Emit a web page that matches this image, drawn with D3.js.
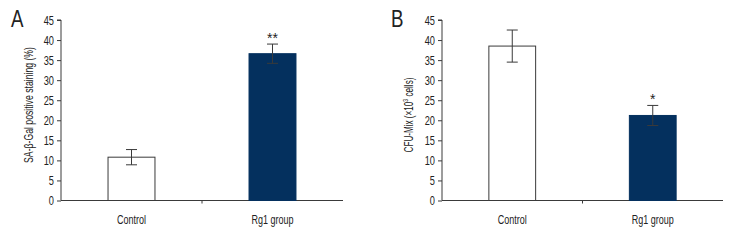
<!DOCTYPE html>
<html><head><meta charset="utf-8">
<script src="https://cdn.jsdelivr.net/npm/d3@7"></script>
<style>body{margin:0;background:#fff}svg{display:block}text{font-family:"Liberation Sans",Arial,sans-serif;fill:#222}</style>
</head><body><svg id="c" width="744" height="240"></svg>
<script>
const categories = ["Control", "Rg1 group"];
const valuesA = [10.8, 36.6];
const errorsA = [1.9, 2.4];
const starsA = ["", "**"];
const valuesB = [38.5, 21.2];
const errorsB = [4.0, 2.5];
const starsB = ["", "*"];
const yTicks = [0, 5, 10, 15, 20, 25, 30, 35, 40, 45];

const svg = d3.select("#c");
const navy = "#04305e", ink = "#3a3a3a";

// text drawn narrower (condensed look) by a horizontal scale
function ntext(parent, x, y, f, rot) {
  return parent.append("text")
    .attr("transform", `translate(${x},${y})${rot ? ` rotate(${rot})` : ""} scale(${f},1)`);
}

function panel(cfg) {
  const g = svg.append("g");
  const x = d3.scaleBand().domain(categories).range([cfg.x0, cfg.x1]).paddingInner(0.66).paddingOuter(0.33);
  const y = d3.scaleLinear().domain([0, 45]).range([200.5, 20]);
  const f = 0.74;
  const ya = g.append("g").attr("transform", `translate(${cfg.x0},0)`)
    .call(d3.axisLeft(y).tickValues(yTicks).tickSize(4).tickPadding(3));
  ya.select(".domain").attr("stroke", ink).attr("d", `M-4,${y(45)}H0V${y(0)}`);
  ya.selectAll(".tick line").attr("stroke", ink);
  ya.selectAll(".tick text").attr("font-size", 12.5)
    .style("font-family", '"Liberation Sans",Arial,sans-serif').attr("fill", "#222")
    .attr("x", -7 / f).attr("transform", `scale(${f},1)`);
  g.append("line").attr("x1", cfg.x0).attr("x2", cfg.x1).attr("y1", y(0)).attr("y2", y(0)).attr("stroke", ink);
  const mid = (x(categories[0]) + x.bandwidth() + x(categories[1])) / 2;
  g.append("line").attr("x1", mid).attr("x2", mid).attr("y1", y(0)).attr("y2", y(0) + 3).attr("stroke", ink);
  g.selectAll("rect.bar").data(categories).join("rect")
    .attr("x", d => x(d) + 0.5).attr("width", x.bandwidth() - 1)
    .attr("y", (d, i) => y(cfg.values[i])).attr("height", (d, i) => y(0) - y(cfg.values[i]))
    .attr("fill", (d, i) => i === 0 ? "#fff" : navy)
    .attr("stroke", (d, i) => i === 0 ? ink : navy).attr("stroke-width", 1);
  categories.forEach((c, i) => {
    const cx = x(c) + x.bandwidth() / 2;
    const hi = y(cfg.values[i] + cfg.errors[i]), lo = y(cfg.values[i] - cfg.errors[i]);
    g.append("line").attr("x1", cx).attr("x2", cx).attr("y1", hi).attr("y2", lo).attr("stroke", ink);
    [hi, lo].forEach(v => g.append("line").attr("x1", cx - 5.5).attr("x2", cx + 5.5).attr("y1", v).attr("y2", v).attr("stroke", ink));
    if (cfg.stars[i]) g.append("text").attr("x", cx).attr("y", hi - 1).attr("text-anchor", "middle").attr("font-size", 14).attr("fill", "#333").text(cfg.stars[i]);
    ntext(g, cx, 223.5, 0.72).attr("text-anchor", "middle").attr("font-size", 12.5).text(c);
  });
  const yl = ntext(g, cfg.lx, cfg.ly, 1, -90).attr("text-anchor", "middle").attr("font-size", 12.5);
  cfg.label(yl);
  const L = yl.node().getComputedTextLength();
  yl.attr("transform", `translate(${cfg.lx},${cfg.ly}) rotate(-90) scale(${cfg.lw / L},1)`);
  ntext(g, cfg.px, 27, 0.78).attr("font-size", 24).text(cfg.letter);
}

panel({x0: 61, x1: 343, values: valuesA, errors: errorsA, stars: starsA, lx: 32.5, ly: 105, lw: 116, px: 11, letter: "A",
  label: t => t.text("SA-β-Gal positive staining (%)")});
panel({x0: 442, x1: 723, values: valuesB, errors: errorsB, stars: starsB, lx: 412.5, ly: 115, lw: 75, px: 391, letter: "B",
  label: t => { t.append("tspan").text("CFU-Mix (×10"); t.append("tspan").attr("font-size", 8).attr("dy", -4.5).text("3"); t.append("tspan").attr("dy", 4.5).text(" cells)"); }});
</script></body></html>
